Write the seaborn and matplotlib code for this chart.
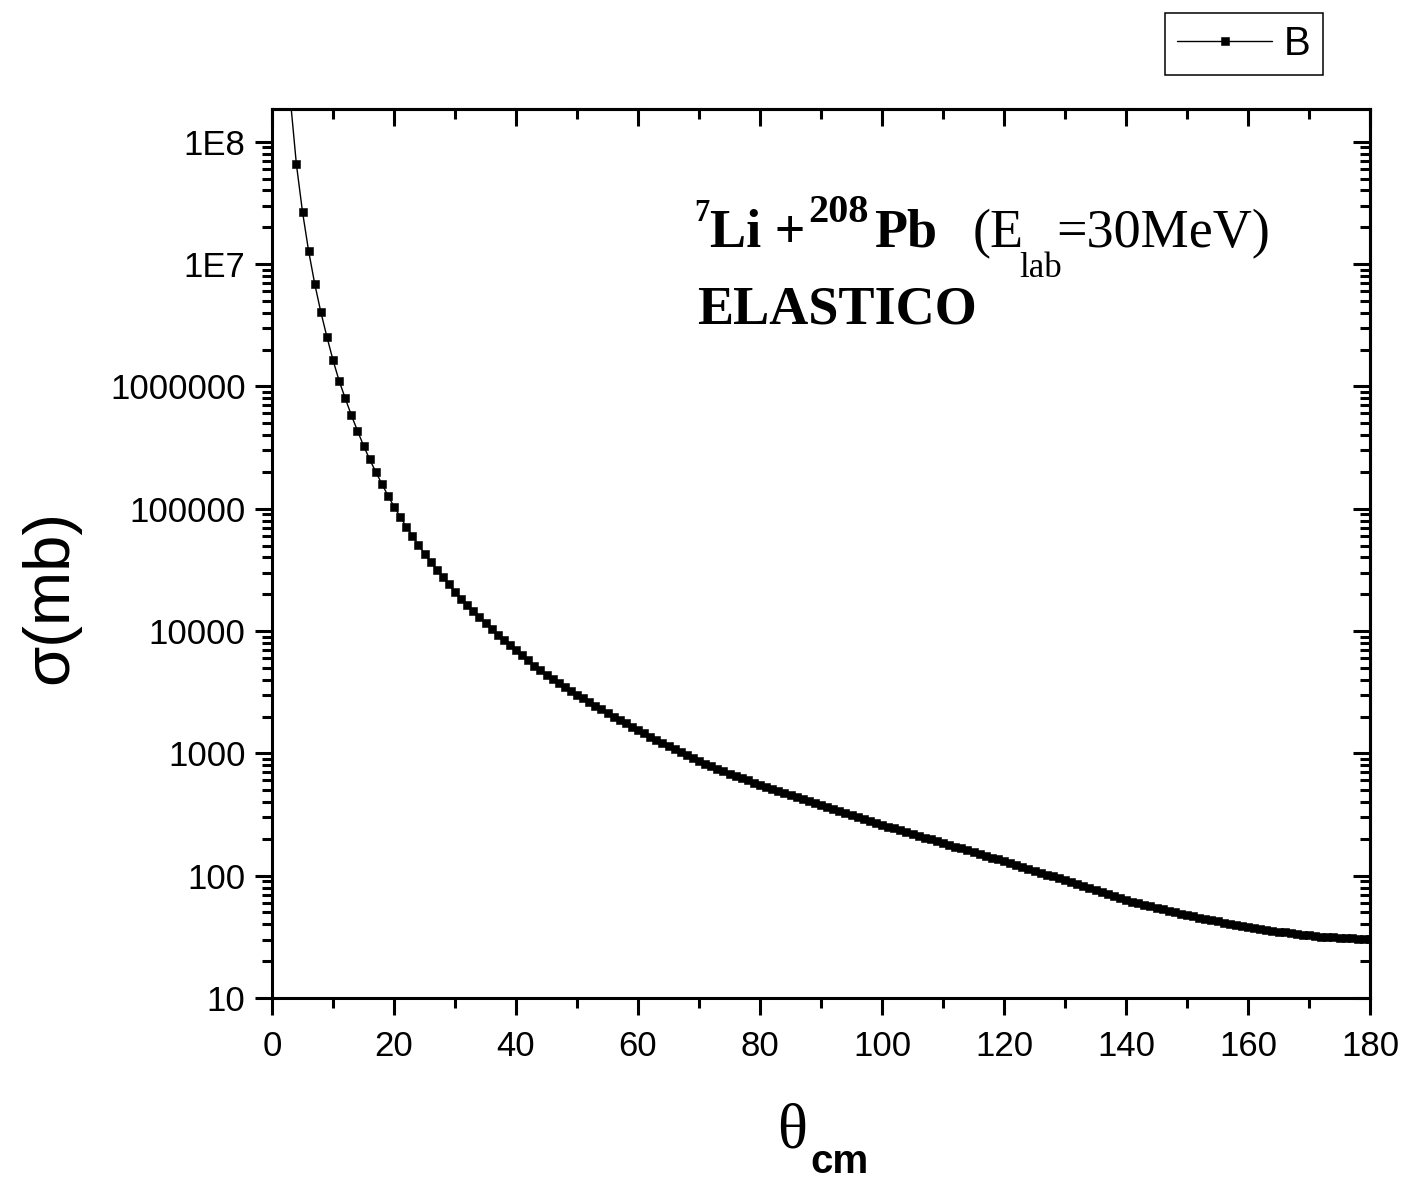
import matplotlib
matplotlib.use("Agg")
import matplotlib.pyplot as plt
import numpy as np
import pandas as pd
import seaborn as sns
from matplotlib.ticker import MultipleLocator, LogLocator, NullFormatter

# Elastic cross section of 7Li + 208Pb at E_lab = 30 MeV, one point per degree
theta_cm = list(range(3, 181))
sigma_mb = [
    2.24e8, 6.53e7, 2.67e7, 1.28e7, 6.90e6, 4.06e6, 2.54e6,                    # 3-9
    1.64e6, 1.11e6, 8.00e5, 5.83e5, 4.35e5, 3.28e5, 2.54e5, 2.00e5, 1.60e5, 1.28e5,  # 10-19
    1.04e5, 8.61e4, 7.14e4, 6.00e4, 5.06e4, 4.30e4, 3.67e4, 3.18e4, 2.75e4, 2.40e4,  # 20-29
    2.09e4, 1.84e4, 1.64e4, 1.46e4, 1.30e4, 1.16e4, 1.04e4, 9350, 8470, 7620,        # 30-39
    6930, 6310, 5740, 5220, 4800, 4390, 4060, 3760, 3490, 3240,                      # 40-49
    3020, 2810, 2620, 2450, 2290, 2140, 2000, 1880, 1760, 1650,                      # 50-59
    1550, 1455, 1370, 1290, 1210, 1140, 1080, 1020, 962, 910,                        # 60-69
    863, 820, 782, 745, 711, 681, 652, 625, 600, 575,                                # 70-79
    553, 532, 512, 492, 473, 455, 438, 421, 405, 389,                                # 80-89
    375, 361, 348, 336, 324, 312, 301, 290, 280, 270,                                # 90-99
    261, 252, 244, 236, 228, 220, 212, 205, 198, 191,                                # 100-109
    185, 179, 173, 167, 161, 156, 150, 145, 140, 136,                                # 110-119
    131, 127, 122, 118, 114, 110, 106, 102, 98.6, 95.1,                              # 120-129
    91.6, 88.3, 85.1, 82.0, 79.1, 76.2, 73.5, 70.8, 68.2, 65.8,                      # 130-139
    63.4, 61.4, 59.6, 57.8, 56.1, 54.5, 53.0, 51.5, 50.1, 48.9,                      # 140-149
    47.6, 46.5, 45.4, 44.4, 43.4, 42.4, 41.4, 40.6, 39.7, 38.9,                      # 150-159
    38.1, 37.3, 36.6, 36.1, 35.5, 34.9, 34.4, 34.0, 33.6, 33.0,                      # 160-169
    32.6, 32.1, 31.8, 31.6, 31.3, 31.1, 30.9, 30.8, 30.6, 30.5,                      # 170-179
    30.5,                                                                            # 180
]

x_ticks = list(range(0, 181, 20))
y_ticks = [10, 100, 1000, 10000, 100000, 1000000, 1e7, 1e8]
y_tick_labels = ["10", "100", "1000", "10000", "100000", "1000000", "1E7", "1E8"]
series_label = "B"

sns.set_style("white")
plt.rcParams.update({
    "font.family": ["Liberation Sans", "DejaVu Sans"],
    "text.color": "black",
    "axes.labelcolor": "black",
    "axes.edgecolor": "black",
    "xtick.color": "black",
    "ytick.color": "black",
})

W, H = 1406, 1182


def fx(px):
    return px / W


def fy(py):
    return 1 - py / H


fig = plt.figure(figsize=(W / 100, H / 100), dpi=100)
fig.patch.set_facecolor("white")
ax = fig.add_axes([fx(272), fy(998), 1098 / W, 889 / H])

df = pd.DataFrame({"theta": theta_cm, "sigma": sigma_mb})
sns.lineplot(data=df, x="theta", y="sigma", ax=ax, color="black",
             linewidth=1.0, marker="s", markersize=5.3,
             markeredgecolor="black", markeredgewidth=0.4,
             label=series_label, errorbar=None)

ax.set_yscale("log")
ax.set_xlim(0, 180)
ax.set_ylim(10, 1.85e8)
ax.set_xlabel("")
ax.set_ylabel("")

lw = 2.2
for sp in ax.spines.values():
    sp.set_linewidth(lw)
    sp.set_color("black")

ax.set_xticks(x_ticks)
ax.xaxis.set_minor_locator(MultipleLocator(10))
ax.set_yticks(y_ticks, y_tick_labels)
ax.yaxis.set_minor_locator(LogLocator(base=10, subs=np.arange(2, 10), numticks=30))
ax.yaxis.set_minor_formatter(NullFormatter())
ax.tick_params(which="both", direction="out", width=lw, color="black",
               bottom=True, left=True, top=False, right=False,
               labelsize=25, labelcolor="black")
ax.tick_params(which="major", length=12)
ax.tick_params(which="minor", length=7)
ax.tick_params(axis="x", pad=11)
ax.tick_params(axis="y", pad=7)

# mirrored axes on top and right with inward ticks
top = ax.secondary_xaxis("top")
top.set_xticks(x_ticks)
top.xaxis.set_minor_locator(MultipleLocator(10))
top.tick_params(which="both", direction="in", width=lw, color="black",
                top=True, labeltop=False)
top.tick_params(which="major", length=12)
top.tick_params(which="minor", length=7)
top.spines["top"].set_linewidth(lw)

right = ax.secondary_yaxis("right")
right.yaxis.set_major_locator(LogLocator(base=10, numticks=30))
right.yaxis.set_minor_locator(LogLocator(base=10, subs=np.arange(2, 10), numticks=30))
right.tick_params(which="both", direction="in", width=lw, color="black",
                  right=True, labelright=False)
right.tick_params(which="major", length=12)
right.tick_params(which="minor", length=7)
right.spines["right"].set_linewidth(lw)

serif = ["Liberation Serif", "DejaVu Serif"]

# axis titles
fig.text(fx(20), fy(597), "σ(mb)", rotation=90, ha="left", va="center",
         fontsize=47, color="black")
fig.text(fx(792), fy(1147), "θ", ha="center", va="baseline",
         fontsize=45, family=serif, color="black")
fig.text(fx(810), fy(1173), "cm", ha="left", va="baseline",
         fontsize=29, fontweight="bold", color="black")

# reaction annotation, laid out piece by piece
base1 = 247
pieces = [
    ("7", 694, 221, 22, "bold"),
    ("Li +", 710, base1, 39, "bold"),
    ("208", 808, 222, 29, "bold"),
    ("Pb", 874, base1, 39, "bold"),
    ("(E", 973, base1, 39, "normal"),
    ("lab", 1019, 277, 25, "normal"),
    ("=30MeV)", 1056, base1, 39, "normal"),
]
for txt, x0, yb, size, weight in pieces:
    fig.text(fx(x0), fy(yb), txt, ha="left", va="baseline", fontsize=size,
             fontweight=weight, family=serif, color="black")
fig.text(fx(697), fy(323), "ELASTICO", ha="left", va="baseline", fontsize=39,
         fontweight="bold", family=serif, color="black")

leg = ax.legend(loc="upper right", bbox_to_anchor=(fx(1323), fy(13)),
                bbox_transform=fig.transFigure, fontsize=29, frameon=True,
                fancybox=False, shadow=False, framealpha=1, edgecolor="black",
                handlelength=2.35, handletextpad=0.3, borderpad=0.3,
                borderaxespad=0, numpoints=1)
leg.get_frame().set_linewidth(1.1)
for t in leg.get_texts():
    t.set_color("black")

fig.savefig("out.png", dpi=100, facecolor="white")
